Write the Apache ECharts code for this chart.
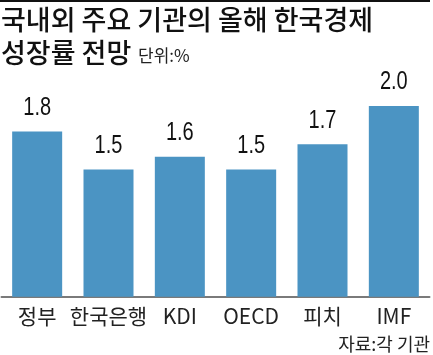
<!DOCTYPE html>
<html><head><meta charset="utf-8">
<script src="https://cdn.jsdelivr.net/npm/echarts@6/dist/echarts.min.js"></script>
<style>html,body{margin:0;padding:0;background:#fff;}#c{width:433px;height:355px;}</style>
</head><body><div id="c"></div>
<script>
const categories = ['정부', '한국은행', 'KDI', 'OECD', '피치', 'IMF'];
const growth = [1.8, 1.5, 1.6, 1.5, 1.7, 2.0];
const titleLine1 = '국내외 주요 기관의 올해 한국경제';
const titleLine2 = '성장률 전망';
const unitText = '단위:%';
const sourceText = '자료:각 기관';

const chart = echarts.init(document.getElementById('c'));
const KR = '"Noto Sans CJK KR", "Noto Sans", sans-serif';
chart.setOption({
  animation: false,
  backgroundColor: '#fff',
  graphic: [
    {type: 'rect', shape: {x: 0, y: 0, width: 430, height: 2}, style: {fill: '#111'}},
    {type: 'text', left: 1, top: 6, style: {text: titleLine1, font: '500 27px ' + KR, fill: '#111'}},
    {type: 'text', left: 1, top: 39, style: {text: titleLine2, font: '500 27px ' + KR, fill: '#111'}},
    {type: 'text', left: 138, top: 47, style: {text: unitText, font: '400 17px ' + KR, fill: '#222'}},
    {type: 'text', right: 3, top: 335, style: {text: sourceText, font: '400 18px ' + KR, fill: '#222'}}
  ],
  grid: {left: 1.5, right: 3.5, top: 106, bottom: 58.3, containLabel: false},
  xAxis: {
    type: 'category', data: categories,
    axisLine: {lineStyle: {color: '#7a7a7a', width: 2}},
    axisTick: {show: false},
    axisLabel: {interval: 0, fontFamily: KR, fontSize: 21, color: '#222', margin: 9}
  },
  yAxis: {type: 'value', min: 0.5, max: 2.0, show: false, splitLine: {show: false}},
  series: [{
    type: 'bar', data: growth, barWidth: 50,
    itemStyle: {color: '#4b94c3'}
  }, {
    type: 'custom', data: growth, silent: true, z: 5,
    renderItem: function (params, api) {
      const pt = api.coord([api.value(0), api.value(1)]);
      return {
        type: 'text', x: pt[0], y: pt[1] - 11, scaleX: 0.8,
        style: {text: api.value(1).toFixed(1), font: '25px "Liberation Sans", Arial, sans-serif',
          fill: '#111', align: 'center', verticalAlign: 'bottom'}
      };
    },
    encode: {x: 0, y: 1}
  }]
});
</script></body></html>
